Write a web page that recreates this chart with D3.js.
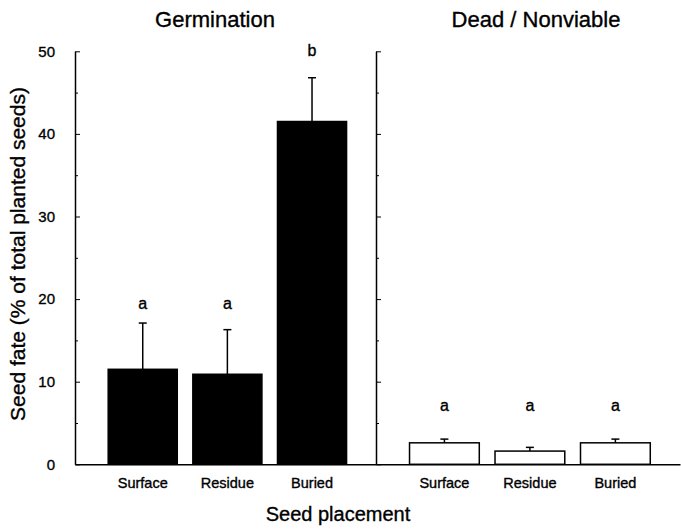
<!DOCTYPE html>
<html>
<head>
<meta charset="utf-8">
<script src="https://cdn.jsdelivr.net/npm/d3@7"></script>
<style>
  body { margin: 0; background: #fff; }
  text { font-family: 'Liberation Sans', Arial, sans-serif; fill: #000; stroke: #000; stroke-width: 0.35px; }
</style>
</head>
<body>
<svg id="chart"></svg>
<script>
var width = 681;
var height = 529;

var placements = ['Surface', 'Residue', 'Buried'];
var germMean = [11.5, 10.9, 41.5];
var germErr = [5.6, 5.4, 5.3];
var germLetters = ['a', 'a', 'b'];
var germLetterAt = [18.8, 18.8, 49.4];
var deadMean = [2.6, 1.6, 2.6];
var deadErr = [0.45, 0.45, 0.45];
var deadLetters = ['a', 'a', 'a'];
var deadLetterAt = [6.4, 6.4, 6.4];
var majorTicks = [0, 10, 20, 30, 40, 50];
var minorTicks = [5, 15, 25, 35, 45];

var svg = d3.select('#chart')
  .attr('width', width)
  .attr('height', height);

var yScale = d3.scaleLinear()
  .domain([0, 50])
  .range([464.3, 51.3]);

var panels = [
  { title: 'Germination', titleX: 215, range: [75, 376], mean: germMean, err: germErr,
    letters: germLetters, letterAt: germLetterAt, fill: '#000', labels: true },
  { title: 'Dead / Nonviable', titleX: 536, range: [376, 680], mean: deadMean, err: deadErr,
    letters: deadLetters, letterAt: deadLetterAt, fill: '#fff', labels: false }
];

panels.forEach(function(p) {
  var xScale = d3.scaleBand()
    .domain(placements)
    .range(p.range)
    .paddingInner(0.184)
    .paddingOuter(0.37)
    .align(0.53);

  var g = svg.append('g');

  // bars
  g.selectAll('rect')
    .data(placements)
    .enter()
    .append('rect')
    .attr('x', d => xScale(d))
    .attr('y', (d, i) => yScale(p.mean[i]))
    .attr('width', xScale.bandwidth())
    .attr('height', (d, i) => yScale(0) - yScale(p.mean[i]))
    .attr('fill', p.fill)
    .attr('stroke', '#000')
    .attr('stroke-width', 1.5);

  // error bars
  var cx = d => xScale(d) + xScale.bandwidth() / 2;
  g.selectAll('.err')
    .data(placements)
    .enter()
    .append('line')
    .attr('x1', cx)
    .attr('x2', cx)
    .attr('y1', (d, i) => yScale(p.mean[i]))
    .attr('y2', (d, i) => yScale(p.mean[i] + p.err[i]))
    .attr('stroke', '#000')
    .attr('stroke-width', 1.5);

  g.selectAll('.cap')
    .data(placements)
    .enter()
    .append('line')
    .attr('x1', d => cx(d) - 4)
    .attr('x2', d => cx(d) + 4)
    .attr('y1', (d, i) => yScale(p.mean[i] + p.err[i]))
    .attr('y2', (d, i) => yScale(p.mean[i] + p.err[i]))
    .attr('stroke', '#000')
    .attr('stroke-width', 1.5);

  // significance letters
  g.selectAll('.letter')
    .data(placements)
    .enter()
    .append('text')
    .attr('x', cx)
    .attr('y', (d, i) => yScale(p.letterAt[i]))
    .style('text-anchor', 'middle')
    .style('font-size', '16px')
    .text((d, i) => p.letters[i]);

  // x axis (baseline + category labels)
  var xAxis = svg.append('g')
    .attr('transform', 'translate(0,' + yScale(0) + ')')
    .call(d3.axisBottom(xScale).tickSize(0).tickPadding(13));
  xAxis.select('.domain').attr('stroke-width', 1.5);
  xAxis.selectAll('text')
    .style('font-size', '14.5px')
    .style('font-family', "'Liberation Sans', Arial, sans-serif");

  // y axis, ticks pointing inward
  var yAxis = svg.append('g')
    .attr('transform', 'translate(' + p.range[0] + ',0)')
    .call(d3.axisLeft(yScale)
      .tickValues(majorTicks)
      .tickSizeInner(-5)
      .tickSizeOuter(0)
      .tickPadding(20)
      .tickFormat(p.labels ? d3.format('d') : ''));
  yAxis.select('.domain').attr('stroke-width', 1.5);
  yAxis.selectAll('text')
    .style('font-size', '15px')
    .style('font-family', "'Liberation Sans', Arial, sans-serif");

  svg.append('g')
    .attr('transform', 'translate(' + p.range[0] + ',0)')
    .call(d3.axisLeft(yScale)
      .tickValues(minorTicks)
      .tickSizeInner(-3)
      .tickSizeOuter(0)
      .tickFormat(''))
    .select('.domain').remove();

  // panel title
  svg.append('text')
    .attr('x', p.titleX)
    .attr('y', 27)
    .style('text-anchor', 'middle')
    .style('font-size', '22px')
    .text(p.title);
});

svg.append('text')
  .attr('transform', 'rotate(-90)')
  .attr('x', -254)
  .attr('y', 25)
  .style('text-anchor', 'middle')
  .style('font-size', '21px')
  .text('Seed fate (% of total planted seeds)');

svg.append('text')
  .attr('x', 338)
  .attr('y', 521)
  .style('text-anchor', 'middle')
  .style('font-size', '20px')
  .text('Seed placement');
</script>
</body>
</html>
